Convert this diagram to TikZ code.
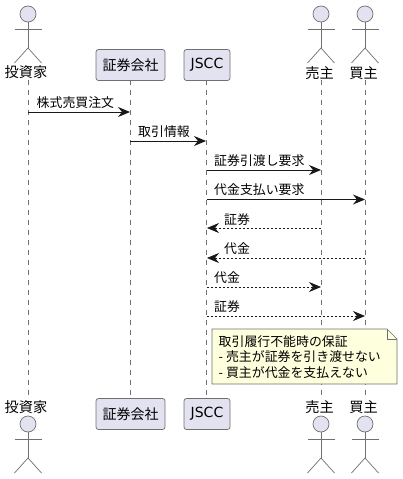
\documentclass[tikz,border=0pt]{standalone}
\usepackage{fontspec}
\setmainfont{Noto Sans CJK JP}
\newfontfamily\latinf{DejaVu Sans}
\usetikzlibrary{arrows.meta}
\definecolor{pfill}{HTML}{E2E2F0}
\definecolor{pline}{HTML}{181818}
\definecolor{sline}{HTML}{707070}
\definecolor{nfill}{HTML}{FEFFDD}
\tikzset{
  x=1pt,y=-1pt,
  partbox/.style={draw=sline,fill=pfill,rounded corners=2.5pt,line width=0.7pt,inner sep=0pt,minimum height=31pt,anchor=center,font=\fontsize{14pt}{14pt}\selectfont,text=black},
  actname/.style={font=\fontsize{14.2pt}{14pt}\selectfont,inner sep=0pt,text=black},
  stick/.style={draw=sline,line width=0.7pt},
  head/.style={circle,draw=sline,fill=pfill,line width=0.7pt,minimum size=16pt,inner sep=0pt},
  lifeline/.style={draw=sline,line width=0.6pt,dash pattern=on 5pt off 5pt},
  msg/.style={draw=pline,line width=0.9pt,-{Stealth[length=12pt,width=10pt,inset=4pt,fill=pline]}},
  rmsg/.style={draw=pline,line width=0.7pt,dash pattern=on 2pt off 2pt,-{Stealth[length=12pt,width=10pt,inset=4pt,fill=pline,sep=0pt]}},
  msglabel/.style={font=\fontsize{12.9pt}{13pt}\selectfont,inner sep=0pt,anchor=west,text=black},
  notetext/.style={font=\fontsize{12.9pt}{15.5pt}\selectfont,inner sep=0pt,anchor=north west,align=left,text=black},
}
\newcommand{\stickman}[3]{% x, head y, id
  \node[head] (#3h) at (#1,#2) {};
  \draw[stick] (#3h.south) -- (#1,#2+34);
  \draw[stick] (#1-13.5,#2+15) -- (#1+13.5,#2+15);
  \draw[stick] (#1-13.5,#2+49) -- (#1,#2+34) -- (#1+13.5,#2+49);
}
\begin{document}
\begin{tikzpicture}
\useasboundingbox (0,0) rectangle (403,479);
% lifeline ends
\coordinate (ta) at (28,80); \coordinate (ba) at (28,398);
\coordinate (tb) at (130,80); \coordinate (bb) at (130,398);
\coordinate (tc) at (206.5,80); \coordinate (bc) at (206.5,398);
\coordinate (td) at (321,80); \coordinate (bd) at (321,398);
\coordinate (te) at (365,80); \coordinate (be) at (365,398);
\foreach \p in {a,b,c,d,e} \draw[lifeline] (t\p) -- (b\p);
% participants top
\stickman{28}{14}{a1}
\stickman{321}{14}{d1}
\stickman{365}{14}{e1}
\node[actname] (a1n) at (26,72.5) {投資家};
\node[actname] (d1n) at (319.5,73) {売主};
\node[actname] (e1n) at (363.5,73) {買主};
\node[partbox,minimum width=69pt] (b1) at (130.5,65) {証券会社};
\node[partbox,minimum width=46pt] (c1) at (207,65) {\latinf JSCC};
% participants bottom
\node[actname] (a2n) at (26,407) {投資家};
\node[actname] (d2n) at (319.5,407.5) {売主};
\node[actname] (e2n) at (363.5,407.5) {買主};
\stickman{28}{424}{a2}
\stickman{321}{424}{d2}
\stickman{365}{424}{e2}
\node[partbox,minimum width=69pt] (b2) at (130.5,414) {証券会社};
\node[partbox,minimum width=46pt] (c2) at (207,414) {\latinf JSCC};
% messages
\draw[msg] (28,112) coordinate (m1a) -- (130,112) coordinate (m1b);
\node[msglabel] (l1) at (36.5,102.5) {株式売買注文};
\draw[msg] (130,141) coordinate (m2a) -- (206,141) coordinate (m2b);
\node[msglabel] (l2) at (138,131.5) {取引情報};
\draw[msg] (206.5,170) coordinate (m3a) -- (321,170) coordinate (m3b);
\node[msglabel] (l3) at (214,161) {証券引渡し要求};
\draw[msg] (206.5,199.5) coordinate (m4a) -- (365,199.5) coordinate (m4b);
\node[msglabel] (l4) at (214,190) {代金支払い要求};
\draw[rmsg] (321,228) coordinate (m5a) -- (207,228) coordinate (m5b);
\node[msglabel] (l5) at (224,219.5) {証券};
\draw[rmsg] (365,258) coordinate (m6a) -- (207,258) coordinate (m6b);
\node[msglabel] (l6) at (224,248.5) {代金};
\draw[rmsg] (206.5,287) coordinate (m7a) -- (321,287) coordinate (m7b);
\node[msglabel] (l7) at (214,277.5) {代金};
\draw[rmsg] (206.5,316) coordinate (m8a) -- (365,316) coordinate (m8b);
\node[msglabel] (l8) at (214,306.5) {証券};
% note
\draw[draw=sline,fill=nfill,line width=0.7pt] (212,329) -- (387,329) -- (397,339) -- (397,384) -- (212,384) -- cycle;
\draw[draw=sline,line width=0.7pt] (387,329) -- (387,339) -- (397,339);
\node[notetext] (n) at (218.5,335) {取引履行不能時の保証\\- 売主が証券を引き渡せない\\- 買主が代金を支払えない};
\end{tikzpicture}
\end{document}
